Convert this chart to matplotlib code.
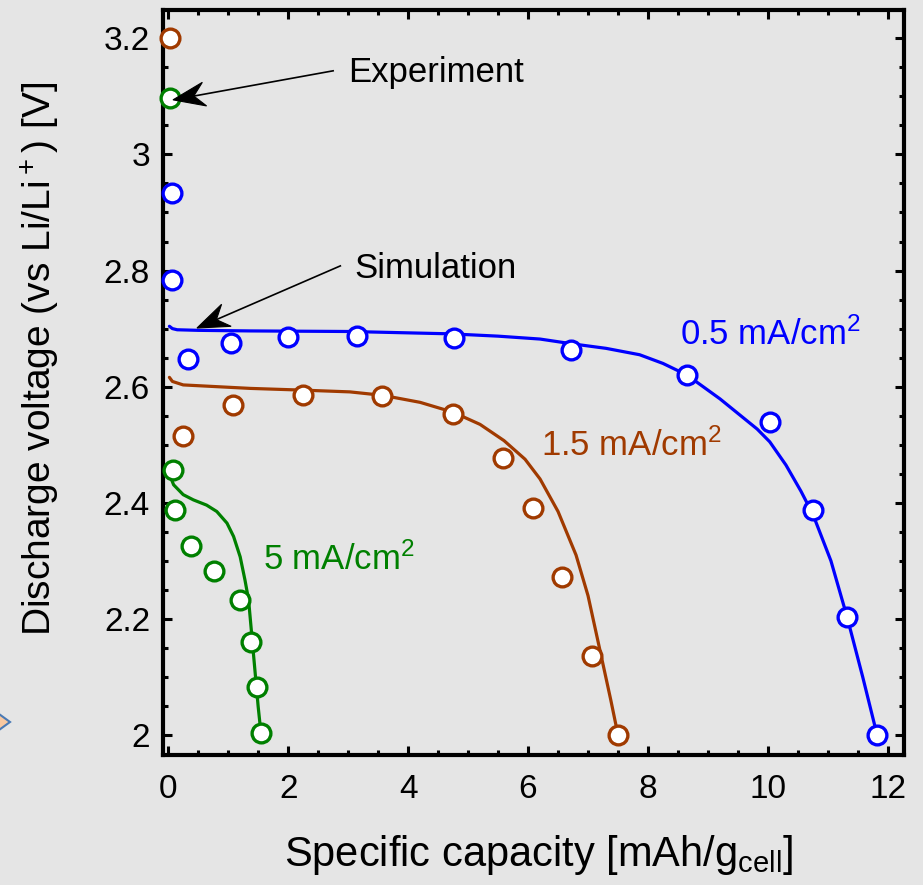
import matplotlib
matplotlib.use("Agg")
import numpy as np
import matplotlib.pyplot as plt
from matplotlib.ticker import MultipleLocator, FuncFormatter
from matplotlib.patches import Polygon
from matplotlib.transforms import IdentityTransform

plt.rcParams['font.family'] = ['Liberation Sans', 'DejaVu Sans']
plt.rcParams['mathtext.fontset'] = 'custom'
plt.rcParams['mathtext.rm'] = 'Liberation Sans'
plt.rcParams['mathtext.default'] = 'regular'

# ---- Experimental data ----
exp_blue_x = [0.07, 0.07, 0.33, 1.05, 2.0, 3.15, 4.77, 6.72, 8.65, 10.03, 10.75, 11.32, 11.82]
exp_blue_y = [2.934, 2.783, 2.647, 2.675, 2.685, 2.687, 2.683, 2.664, 2.620, 2.539, 2.388, 2.203, 2.0]

exp_brown_x = [0.03, 0.25, 1.08, 2.25, 3.57, 4.75, 5.58, 6.08, 6.57, 7.07, 7.5]
exp_brown_y = [3.2, 2.515, 2.568, 2.585, 2.584, 2.553, 2.477, 2.391, 2.273, 2.136, 2.0]

exp_green_x = [0.03, 0.08, 0.12, 0.38, 0.77, 1.2, 1.38, 1.48, 1.55]
exp_green_y = [3.097, 2.457, 2.388, 2.326, 2.282, 2.232, 2.161, 2.082, 2.003]

# ---- Simulation curves ----
sim_blue_x = [0.02, 0.07, 0.15, 0.5, 1.37, 3.03, 4.7, 5.5, 6.2, 6.72, 7.3, 7.86, 8.25, 8.65, 9.2,
              9.82, 10.03, 10.3, 10.55, 10.75, 11.05, 11.32, 11.58, 11.82]
sim_blue_y = [2.704, 2.700, 2.698, 2.697, 2.696, 2.695, 2.691, 2.687, 2.682, 2.674, 2.666, 2.655, 2.640, 2.620, 2.579,
              2.527, 2.505, 2.465, 2.420, 2.380, 2.300, 2.203, 2.100, 2.0]

sim_brown_x = [0.02, 0.07, 0.25, 1.37, 2.25, 3.03, 3.58, 4.2, 4.75, 5.2, 5.6, 5.95, 6.2, 6.5, 6.8, 7.0,
               7.22, 7.38, 7.5]
sim_brown_y = [2.616, 2.609, 2.603, 2.597, 2.594, 2.591, 2.585, 2.573, 2.556, 2.535, 2.507, 2.475, 2.441, 2.385,
               2.310, 2.240, 2.136, 2.060, 2.0]

sim_green_x = [0.05, 0.06, 0.09, 0.25, 0.42, 0.64, 0.81, 0.98, 1.09, 1.2, 1.28, 1.34, 1.39, 1.45, 1.5, 1.55]
sim_green_y = [2.452, 2.439, 2.431, 2.414, 2.405, 2.396, 2.385, 2.365, 2.342, 2.307, 2.267, 2.233, 2.176, 2.107,
               2.049, 2.0]

labels = ['0.5 mA/cm$^2$', '1.5 mA/cm$^2$', '5 mA/cm$^2$']

BLUE = '#0000ff'
BROWN = '#a03a00'
GREEN = '#008000'
BG = '#e5e5e5'

fig = plt.figure(figsize=(9.23, 8.85), dpi=100, facecolor=BG)
ax = fig.add_axes([162.5/923, 1 - 755/885, (903.5-162.5)/923, (755-9.5)/885])
ax.set_facecolor(BG)

for sx, sy, c in [(sim_blue_x, sim_blue_y, BLUE), (sim_brown_x, sim_brown_y, BROWN), (sim_green_x, sim_green_y, GREEN)]:
    ax.plot(sx, sy, '-', color=c, lw=2.3, zorder=2, solid_capstyle='round', solid_joinstyle='round')

for ex, ey, c in [(exp_blue_x, exp_blue_y, BLUE), (exp_brown_x, exp_brown_y, BROWN), (exp_green_x, exp_green_y, GREEN)]:
    ax.plot(ex, ey, 'o', ms=13.5, mfc='white', mec=c, mew=2.4, zorder=3, clip_on=False)

ax.text(8.53, 2.672, labels[0], color=BLUE, fontsize=25, va='baseline', ha='left')
ax.text(6.21, 2.481, labels[1], color=BROWN, fontsize=25, va='baseline', ha='left')
ax.text(1.58, 2.284, labels[2], color=GREEN, fontsize=25, va='baseline', ha='left')

ax.text(3.0, 3.124, 'Experiment', fontsize=25, va='baseline', ha='left')
ax.text(3.1, 2.788, 'Simulation', fontsize=25, va='baseline', ha='left')

ax.set_xlim(-0.095, 12.26)
ax.set_ylim(1.9656, 3.2496)
ax.xaxis.set_major_locator(MultipleLocator(2))
ax.xaxis.set_minor_locator(MultipleLocator(0.5))
ax.yaxis.set_major_locator(MultipleLocator(0.2))
ax.yaxis.set_minor_locator(MultipleLocator(0.05))
ax.yaxis.set_major_formatter(FuncFormatter(lambda v, p: '%g' % round(v, 3)))

# annotation arrows with swept-back heads
arrows = [((0.08, 3.094), (2.75, 3.144)), ((0.48, 2.701), (2.87, 2.808))]
for tip, tail in arrows:
    p_tip = ax.transData.transform(tip)
    p_tail = ax.transData.transform(tail)
    u = (p_tail - p_tip) / np.hypot(*(p_tail - p_tip))
    n = np.array([-u[1], u[0]])
    L, W = 32.0, 12.0
    notch = p_tip + 0.66 * L * u
    head = [p_tip, p_tip + L * u + W * n, notch, p_tip + L * u - W * n]
    ax.plot([notch[0], p_tail[0]], [notch[1], p_tail[1]], color='black', lw=1.2,
            transform=IdentityTransform(), zorder=4)
    ax.add_patch(Polygon(head, closed=True, facecolor='black', edgecolor='black', lw=0.8,
                         transform=IdentityTransform(), zorder=4))

ax.tick_params(which='both', direction='in', top=True, right=True, width=2.2, colors='black')
ax.tick_params(which='major', length=6.5)
ax.tick_params(which='minor', length=3.5)
ax.tick_params(axis='x', which='major', labelsize=24, pad=14)
ax.tick_params(axis='y', which='major', labelsize=24, pad=9)
for s in ax.spines.values():
    s.set_linewidth(3)

ax.set_xlabel('Specific capacity [mAh/g$_{cell}$]', fontsize=30)
ax.set_ylabel('Discharge voltage (vs Li/Li$^+$) [V]', fontsize=28)
ax.xaxis.set_label_coords(0.508, -0.104)
ax.yaxis.set_label_coords(-0.135, 0.532)

# small decoration at left edge
fig.patches.append(Polygon([(-12/923, 1-722/885), (-1/923, 1-714/885), (10/923, 1-722/885), (-1/923, 1-730/885)],
                           closed=True, transform=fig.transFigure, facecolor='#f8c8a0', edgecolor='#4a7ab5', lw=1.5))

fig.savefig('out.png', dpi=100, facecolor=BG)
